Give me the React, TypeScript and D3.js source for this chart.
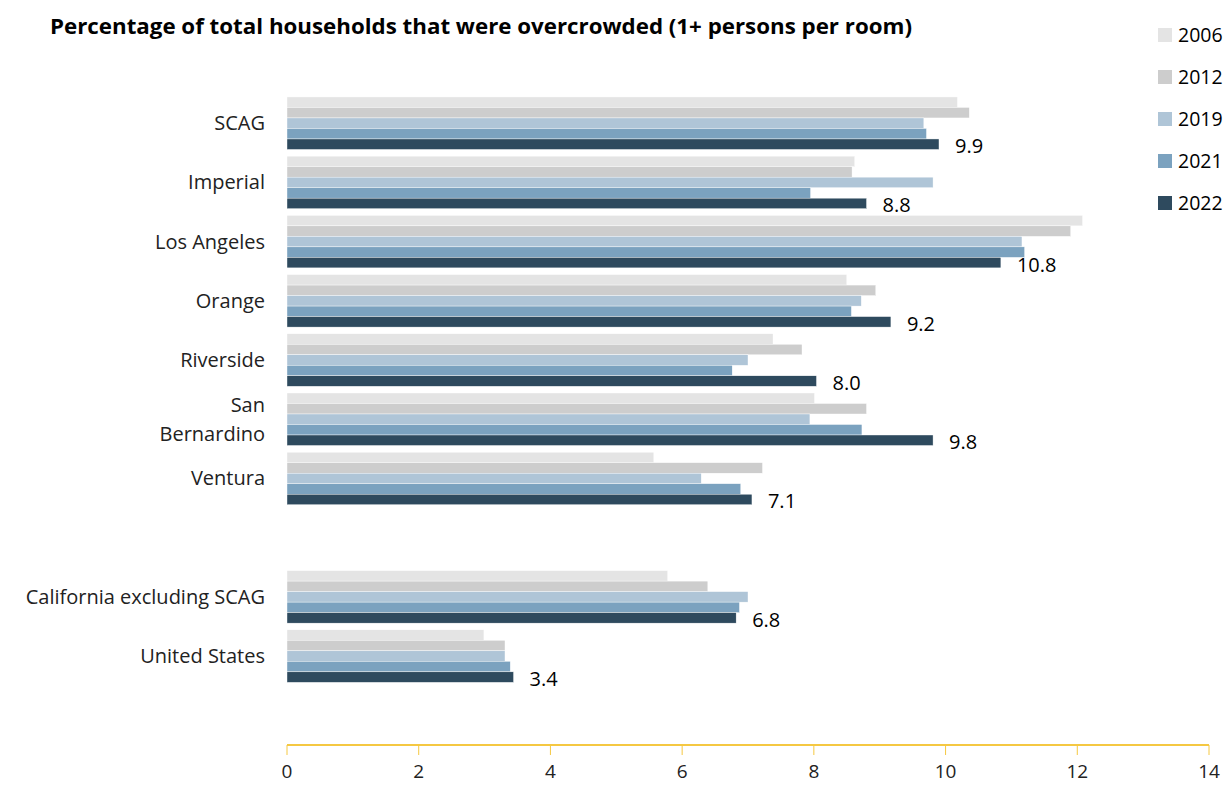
import React from "react";
import * as d3 from "d3";

const categories = ["SCAG", "Imperial", "Los Angeles", "Orange", "Riverside", "San Bernardino", "Ventura", "", "California excluding SCAG", "United States", " "];
const categoryLines: string[][] = [["SCAG"], ["Imperial"], ["Los Angeles"], ["Orange"], ["Riverside"], ["San", "Bernardino"], ["Ventura"], [], ["California excluding SCAG"], ["United States"], []];
const years = ["2006", "2012", "2019", "2021", "2022"];
const colors = ["#e4e4e4", "#cdcdcd", "#afc5d7", "#7ba2bf", "#2e4a5e"];

const v2006 = [10.18, 8.62, 12.08, 8.5, 7.38, 8.01, 5.57, NaN, 5.78, 2.99, NaN];
const v2012 = [10.36, 8.58, 11.9, 8.94, 7.82, 8.8, 7.22, NaN, 6.39, 3.31, NaN];
const v2019 = [9.67, 9.81, 11.16, 8.72, 7.0, 7.94, 6.29, NaN, 7.0, 3.31, NaN];
const v2021 = [9.71, 7.95, 11.2, 8.57, 6.76, 8.73, 6.89, NaN, 6.87, 3.39, NaN];
const v2022 = [9.9, 8.8, 10.84, 9.17, 8.04, 9.81, 7.06, NaN, 6.82, 3.44, NaN];
const series = [v2006, v2012, v2019, v2021, v2022];
const xTicks = [0, 2, 4, 6, 8, 10, 12, 14];

const W = 1229;
const H = 785;
const FONT = "'Open Sans', Lato, sans-serif";

export default function App() {
  const x = d3.scaleLinear().domain([0, 14]).range([287, 1209]);
  const y = d3
    .scaleBand<string>()
    .domain(categories)
    .range([93.6, 744.9])
    .paddingInner(0.113)
    .paddingOuter(0.0565);
  const inner = d3.scaleBand<string>().domain(years).range([0, y.bandwidth()]);
  const axisY = 745;

  return (
    <svg width={W} height={H} style={{ position: "absolute", left: 0, top: 0, background: "#fff" }} fontFamily={FONT}>
      <text x={50} y={27} dy="0.35em" fontSize={21} fontWeight={700} fill="#000" textLength={862} lengthAdjust="spacingAndGlyphs">
        Percentage of total households that were overcrowded (1+ persons per room)
      </text>

      {categories.map((c, i) =>
        series.map((s, j) => {
          const v = s[i];
          if (!isFinite(v)) return null;
          return (
            <rect
              key={c + j}
              x={x(0)}
              y={(y(c) as number) + (inner(years[j]) as number)}
              width={x(v) - x(0)}
              height={inner.bandwidth()}
              fill={colors[j]}
              stroke="#ffffff"
              strokeWidth={0.4}
            />
          );
        })
      )}

      {categories.map((c, i) => {
        const v = v2022[i];
        if (!isFinite(v)) return null;
        const yy = (y(c) as number) + (inner("2022") as number) + inner.bandwidth() / 2 + 2;
        return (
          <text key={"l" + c} x={x(v) + 16} y={yy} dy="0.35em" fontSize={20} fill="#000">
            {v.toFixed(1)}
          </text>
        );
      })}

      {categories.map((c, i) => {
        const lines = categoryLines[i];
        if (!lines.length) return null;
        const cy = (y(c) as number) + y.bandwidth() / 2;
        const lh = 29;
        return (
          <text key={"c" + c} x={265} y={cy} textAnchor="end" fontSize={20} fill="#222">
            {lines.map((ln, k) => (
              <tspan key={k} x={265} y={cy + (k - (lines.length - 1) / 2) * lh} dy="0.35em">
                {ln}
              </tspan>
            ))}
          </text>
        );
      })}

      <line x1={x(0)} x2={x(14)} y1={axisY} y2={axisY} stroke="#f5c842" strokeWidth={2} />
      {xTicks.map((t) => (
        <g key={t}>
          <line x1={x(t)} x2={x(t)} y1={axisY} y2={axisY + 10} stroke="#f5c842" strokeWidth={1} />
          <text x={x(t)} y={771} textAnchor="middle" dy="0.35em" fontSize={19} fill="#222">
            {t}
          </text>
        </g>
      ))}

      {years.map((yr, j) => {
        const cy = 35 + j * 42;
        return (
          <g key={yr}>
            <rect x={1158} y={cy - 7} width={14} height={14} fill={colors[j]} />
            <text x={1178} y={cy} dy="0.35em" fontSize={19.5} fill="#000">
              {yr}
            </text>
          </g>
        );
      })}
    </svg>
  );
}
